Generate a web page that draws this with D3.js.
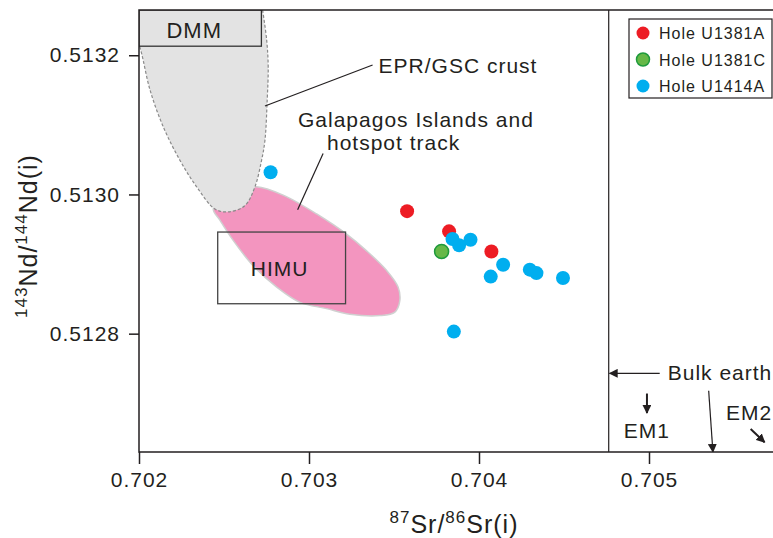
<!DOCTYPE html>
<html>
<head>
<meta charset="utf-8">
<script src="https://cdn.jsdelivr.net/npm/d3@7"></script>
<style>
  body { margin: 0; background: #fff; }
  svg { display: block; }
  text { font-family: "Liberation Sans", Arial, sans-serif; fill: #231f20; letter-spacing: 1px; }
</style>
</head>
<body>
<svg id="chart" width="773" height="538"></svg>
<script>
// samples: [Sr, Nd]
const holeU1381A = [[0.703577, 0.512976], [0.703824, 0.512947], [0.704073, 0.512918]];
const holeU1381C = [[0.703780, 0.512918]];
const holeU1414A = [
  [0.702774, 0.513032], [0.703844, 0.512936], [0.703883, 0.512927], [0.703950, 0.512935],
  [0.704142, 0.512899], [0.704069, 0.512882], [0.704299, 0.512892], [0.704338, 0.512887],
  [0.704494, 0.512880], [0.703852, 0.512803]
];
const seriesNames = ['Hole U1381A', 'Hole U1381C', 'Hole U1414A'];
const seriesColors = ['#ed1c24', '#66b847', '#00aeef'];

const xTicks = [0.702, 0.703, 0.704, 0.705];
const yTicks = [0.5128, 0.5130, 0.5132];

// field outlines
const eprCrust = [
  [0.702727, 0.513265], [0.702751, 0.513222], [0.702760, 0.513183], [0.702754, 0.513135],
  [0.702741, 0.513078], [0.702721, 0.513049], [0.702682, 0.513011], [0.702623, 0.512984],
  [0.702525, 0.512975], [0.702447, 0.512979], [0.702339, 0.513011], [0.702241, 0.513049],
  [0.702143, 0.513097], [0.702065, 0.513150], [0.702016, 0.513202], [0.702003, 0.513213]
];
const galapagos = [
  [0.702437, 0.512979], [0.702476, 0.512963], [0.702554, 0.512934], [0.702670, 0.512898],
  [0.702810, 0.512867], [0.702947, 0.512845], [0.703103, 0.512836], [0.703240, 0.512828],
  [0.703417, 0.512826], [0.703505, 0.512831], [0.703534, 0.512847], [0.703524, 0.512867],
  [0.703456, 0.512891], [0.703339, 0.512919], [0.703221, 0.512943], [0.703045, 0.512972],
  [0.702848, 0.512999], [0.702692, 0.513011], [0.702594, 0.513006], [0.702488, 0.512994]
];
const dmmBox = [[0.702, 0.513213], [0.70272, 0.513265]];
const himuBox = [[0.702463, 0.512843], [0.703215, 0.512946]];
const bulkEarthSr = 0.704763;

const svg = d3.select('#chart');
const margin = { top: 10, left: 139 };
const width = 646, height = 442;
const x = d3.scaleLinear().domain([0.702, 0.7058]).range([0, width]);
const y = d3.scaleLinear().domain([0.51263, 0.513265]).range([height, 0]);

const defs = svg.append('defs');
defs.append('marker')
  .attr('id', 'arrow')
  .attr('viewBox', '0 0 10 10')
  .attr('refX', 9).attr('refY', 5)
  .attr('markerWidth', 9).attr('markerHeight', 9)
  .attr('markerUnits', 'userSpaceOnUse')
  .attr('orient', 'auto')
  .append('path').attr('d', 'M0,0 L10,5 L0,10 Z').attr('fill', '#231f20');
defs.append('clipPath').attr('id', 'plot-clip')
  .append('rect').attr('width', width).attr('height', height);

const g = svg.append('g').attr('transform', `translate(${margin.left},${margin.top})`);
const plot = g.append('g').attr('clip-path', 'url(#plot-clip)');

// Galapagos field
plot.append('path')
  .attr('d', d3.line().x(d => x(d[0])).y(d => y(d[1])).curve(d3.curveCatmullRomClosed)(galapagos))
  .attr('fill', '#f395bf')
  .attr('stroke', '#d0d0d0')
  .attr('stroke-width', 1.5);

// EPR/GSC crust field
const eprLine = d3.line().x(d => x(d[0])).y(d => y(d[1])).curve(d3.curveCatmullRom);
plot.append('path')
  .attr('d', eprLine(eprCrust) + `L${x(0.702)},${y(dmmBox[0][1])}L${x(0.702)},0Z`)
  .attr('fill', '#e3e3e3');
plot.append('path')
  .attr('d', eprLine(eprCrust))
  .attr('fill', 'none')
  .attr('stroke', '#8a8a8a')
  .attr('stroke-width', 1.2)
  .attr('stroke-dasharray', '3,2');

// DMM box
plot.append('rect')
  .attr('x', x(dmmBox[0][0])).attr('y', y(dmmBox[1][1]))
  .attr('width', x(dmmBox[1][0]) - x(dmmBox[0][0]))
  .attr('height', y(dmmBox[0][1]) - y(dmmBox[1][1]))
  .attr('fill', '#e3e3e3').attr('stroke', '#333').attr('stroke-width', 1.3);
plot.append('text')
  .attr('x', (x(dmmBox[0][0]) + x(dmmBox[1][0])) / 2 - 6)
  .attr('y', y(dmmBox[0][1]) - 8)
  .attr('text-anchor', 'middle').attr('font-size', 22)
  .text('DMM');

// HIMU box
plot.append('rect')
  .attr('x', x(himuBox[0][0])).attr('y', y(himuBox[1][1]))
  .attr('width', x(himuBox[1][0]) - x(himuBox[0][0]))
  .attr('height', y(himuBox[0][1]) - y(himuBox[1][1]))
  .attr('fill', 'none').attr('stroke', '#444').attr('stroke-width', 1.3);
plot.append('text')
  .attr('x', (x(himuBox[0][0]) + x(himuBox[1][0])) / 2 - 2)
  .attr('y', (y(himuBox[0][1]) + y(himuBox[1][1])) / 2 + 8)
  .attr('text-anchor', 'middle').attr('font-size', 21)
  .text('HIMU');

// bulk earth line
plot.append('line')
  .attr('x1', x(bulkEarthSr)).attr('x2', x(bulkEarthSr))
  .attr('y1', 0).attr('y2', height)
  .attr('stroke', '#231f20').attr('stroke-width', 1.2);

// annotations
const annot = [
  { from: [0.702741, 0.513127], to: [0.703374, 0.513186], arrow: false },
  { from: [0.702933, 0.512978], to: [0.703083, 0.513059], arrow: false },
  { from: [0.705063, 0.512743], to: [bulkEarthSr + 0.000005, 0.512743], arrow: true },
  { from: [0.705351, 0.512718], to: [0.705376, 0.51263], arrow: true },
  { from: [0.704988, 0.512714], to: [0.704988, 0.512686], arrow: true, bold: true },
  { from: [0.705598, 0.512663], to: [0.705680, 0.512644], arrow: true, bold: true }
];
plot.selectAll('.annot').data(annot).enter().append('line')
  .attr('class', 'annot')
  .attr('x1', d => x(d.from[0])).attr('y1', d => y(d.from[1]))
  .attr('x2', d => x(d.to[0])).attr('y2', d => y(d.to[1]))
  .attr('stroke', '#231f20')
  .attr('stroke-width', d => d.bold ? 2 : 1.2)
  .attr('marker-end', d => d.arrow ? 'url(#arrow)' : null);

plot.append('text').attr('x', x(0.703374) + 6).attr('y', y(0.513186) + 8)
  .attr('font-size', 21).text('EPR/GSC crust');
plot.append('text').attr('x', 298 - margin.left).attr('y', 127 - margin.top)
  .attr('font-size', 21).text('Galapagos Islands and');
plot.append('text').attr('x', 327 - margin.left).attr('y', 150 - margin.top)
  .attr('font-size', 21).text('hotspot track');
plot.append('text').attr('x', x(0.705063) + 8).attr('y', y(0.512743) + 7)
  .attr('font-size', 21).text('Bulk earth');
plot.append('text').attr('x', x(0.704988)).attr('y', 438 - margin.top)
  .attr('text-anchor', 'middle').attr('font-size', 21).text('EM1');
plot.append('text').attr('x', 726 - margin.left).attr('y', 420 - margin.top)
  .attr('font-size', 21).text('EM2');

// samples
const series = [holeU1381A, holeU1381C, holeU1414A];
series.forEach((pts, i) => {
  plot.selectAll(`.pt-${i}`).data(pts).enter().append('circle')
    .attr('class', `pt-${i}`)
    .attr('cx', d => x(d[0])).attr('cy', d => y(d[1]))
    .attr('r', 7)
    .attr('fill', seriesColors[i])
    .attr('stroke', i === 1 ? '#1e9a3c' : 'none')
    .attr('stroke-width', 1.5);
});

// frame
g.append('path')
  .attr('d', `M${width},0H0V${height}H${width}`)
  .attr('fill', 'none').attr('stroke', '#231f20').attr('stroke-width', 1.5);

// axes
const xAxis = g.append('g').attr('transform', `translate(0,${height})`)
  .call(d3.axisBottom(x).tickValues(xTicks).tickFormat(d3.format('.3f')).tickSize(12).tickPadding(8));
const yAxis = g.append('g')
  .call(d3.axisLeft(y).tickValues(yTicks).tickFormat(d3.format('.4f')).tickSize(10).tickPadding(9));
[xAxis, yAxis].forEach(a => {
  a.select('.domain').remove();
  a.selectAll('.tick line').attr('stroke', '#231f20').attr('stroke-width', 1.5);
  a.selectAll('.tick text').attr('font-size', 21).attr('font-family', null).attr('fill', '#231f20');
});

// axis titles
const xt = svg.append('text').attr('x', 454).attr('y', 533).attr('text-anchor', 'middle').attr('font-size', 25);
xt.append('tspan').attr('font-size', 17).attr('dy', -10).text('87');
xt.append('tspan').attr('dy', 10).text('Sr/');
xt.append('tspan').attr('font-size', 17).attr('dy', -10).text('86');
xt.append('tspan').attr('dy', 10).text('Sr(i)');

const yt = svg.append('text').attr('transform', 'translate(37,236) rotate(-90)')
  .attr('text-anchor', 'middle').attr('font-size', 25);
yt.append('tspan').attr('font-size', 17).attr('dy', -10).text('143');
yt.append('tspan').attr('dy', 10).text('Nd/');
yt.append('tspan').attr('font-size', 17).attr('dy', -10).text('144');
yt.append('tspan').attr('dy', 10).text('Nd(i)');

// legend
const legend = svg.append('g');
legend.append('rect').attr('x', 629).attr('y', 19).attr('width', 143).attr('height', 79)
  .attr('fill', '#fff').attr('stroke', '#231f20').attr('stroke-width', 1.2);
seriesNames.forEach((name, i) => {
  const ly = 33 + i * 26.5;
  legend.append('circle').attr('cx', 643).attr('cy', ly).attr('r', 6.5)
    .attr('fill', seriesColors[i])
    .attr('stroke', i === 1 ? '#1e9a3c' : 'none').attr('stroke-width', 1.5);
  legend.append('text').attr('x', 659).attr('y', ly + 6).attr('font-size', 16).text(name);
});
</script>
</body>
</html>
